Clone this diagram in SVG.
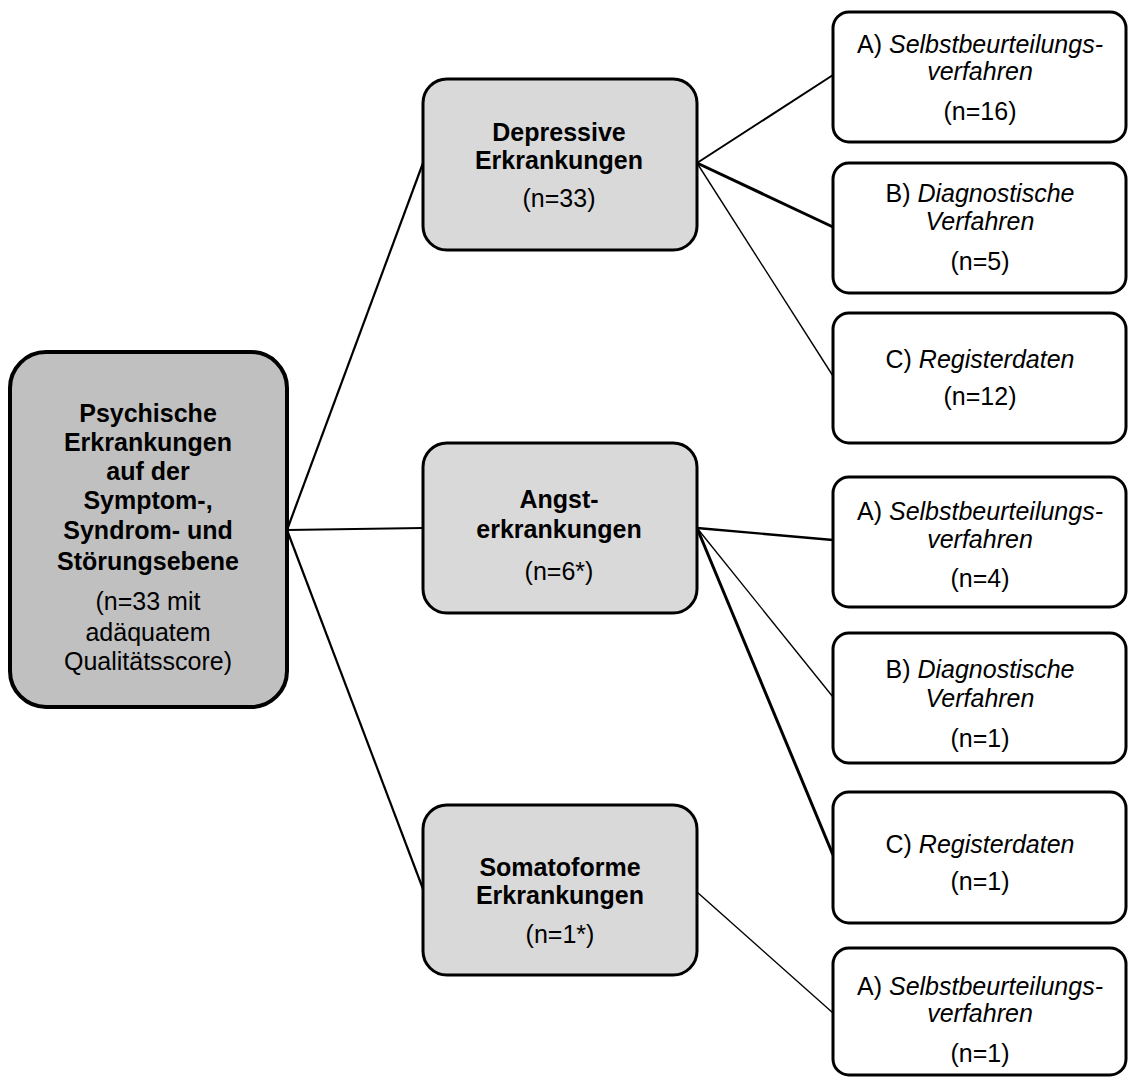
<svg xmlns="http://www.w3.org/2000/svg" width="1128" height="1077" viewBox="0 0 1128 1077">
<style>
.t{font-family:"Liberation Sans",Arial,sans-serif;font-size:25px;fill:#000;text-anchor:middle}
.b{font-weight:bold}
.i{font-style:italic}
.root{fill:#c0c0c0;stroke:#000;stroke-width:4}
.mid{fill:#d9d9d9;stroke:#000;stroke-width:3}
.leaf{fill:#fff;stroke:#000;stroke-width:3}
.c{stroke:#000;fill:none}
</style>
<rect width="1128" height="1077" fill="#fff"/>
<g id="connectors">
<line class="c" x1="287" y1="530" x2="423" y2="163" stroke-width="2.2"/>
<line class="c" x1="287" y1="530" x2="423" y2="528" stroke-width="2.2"/>
<line class="c" x1="287" y1="530" x2="423" y2="889" stroke-width="2.2"/>
<line class="c" x1="697" y1="163" x2="833" y2="75" stroke-width="2"/>
<line class="c" x1="697" y1="163" x2="833" y2="227" stroke-width="3"/>
<line class="c" x1="697" y1="163" x2="833" y2="376" stroke-width="1.4"/>
<line class="c" x1="697" y1="528" x2="833" y2="540" stroke-width="2.4"/>
<line class="c" x1="697" y1="528" x2="833" y2="697" stroke-width="1.4"/>
<line class="c" x1="697" y1="528" x2="833" y2="855" stroke-width="3"/>
<line class="c" x1="697" y1="892" x2="833" y2="1013" stroke-width="1.4"/>
</g>
<g id="root">
<rect class="root" x="10" y="352" width="277" height="355" rx="36"/>
<text class="t b" x="148" y="422">Psychische</text>
<text class="t b" x="148" y="451">Erkrankungen</text>
<text class="t b" x="148" y="480">auf der</text>
<text class="t b" x="148" y="509">Symptom-,</text>
<text class="t b" x="148" y="539">Syndrom- und</text>
<text class="t b" x="148" y="570">Störungsebene</text>
<text class="t" x="148" y="610">(n=33 mit</text>
<text class="t" x="148" y="641">adäquatem</text>
<text class="t" x="148" y="670">Qualitätsscore)</text>
</g>
<g id="depressive">
<rect class="mid" x="423" y="79" width="274" height="171" rx="24"/>
<text class="t b" x="559" y="141">Depressive</text>
<text class="t b" x="559" y="169">Erkrankungen</text>
<text class="t" x="559" y="207">(n=33)</text>
</g>
<g id="angst">
<rect class="mid" x="423" y="443" width="274" height="170" rx="24"/>
<text class="t b" x="559" y="508">Angst-</text>
<text class="t b" x="559" y="538">erkrankungen</text>
<text class="t" x="559" y="580">(n=6*)</text>
</g>
<g id="somatoforme">
<rect class="mid" x="423" y="805" width="274" height="170" rx="24"/>
<text class="t b" x="560" y="876">Somatoforme</text>
<text class="t b" x="560" y="904">Erkrankungen</text>
<text class="t" x="560" y="943">(n=1*)</text>
</g>
<g id="dep-a">
<rect class="leaf" x="833" y="12" width="293" height="130" rx="16"/>
<text class="t" x="980" y="53">A) <tspan class="i">Selbstbeurteilungs-</tspan></text>
<text class="t i" x="980" y="80">verfahren</text>
<text class="t" x="980" y="120">(n=16)</text>
</g>
<g id="dep-b">
<rect class="leaf" x="833" y="163" width="293" height="130" rx="16"/>
<text class="t" x="980" y="202">B) <tspan class="i">Diagnostische</tspan></text>
<text class="t i" x="980" y="230">Verfahren</text>
<text class="t" x="980" y="270">(n=5)</text>
</g>
<g id="dep-c">
<rect class="leaf" x="833" y="313" width="293" height="130" rx="16"/>
<text class="t" x="980" y="368">C) <tspan class="i">Registerdaten</tspan></text>
<text class="t" x="980" y="405">(n=12)</text>
</g>
<g id="angst-a">
<rect class="leaf" x="833" y="477" width="293" height="130" rx="16"/>
<text class="t" x="980" y="520">A) <tspan class="i">Selbstbeurteilungs-</tspan></text>
<text class="t i" x="980" y="548">verfahren</text>
<text class="t" x="980" y="587">(n=4)</text>
</g>
<g id="angst-b">
<rect class="leaf" x="833" y="633" width="293" height="130" rx="16"/>
<text class="t" x="980" y="678">B) <tspan class="i">Diagnostische</tspan></text>
<text class="t i" x="980" y="707">Verfahren</text>
<text class="t" x="980" y="747">(n=1)</text>
</g>
<g id="angst-c">
<rect class="leaf" x="833" y="792" width="293" height="131" rx="16"/>
<text class="t" x="980" y="853">C) <tspan class="i">Registerdaten</tspan></text>
<text class="t" x="980" y="890">(n=1)</text>
</g>
<g id="soma-a">
<rect class="leaf" x="833" y="948" width="293" height="127" rx="16"/>
<text class="t" x="980" y="995">A) <tspan class="i">Selbstbeurteilungs-</tspan></text>
<text class="t i" x="980" y="1022">verfahren</text>
<text class="t" x="980" y="1062">(n=1)</text>
</g>
</svg>
